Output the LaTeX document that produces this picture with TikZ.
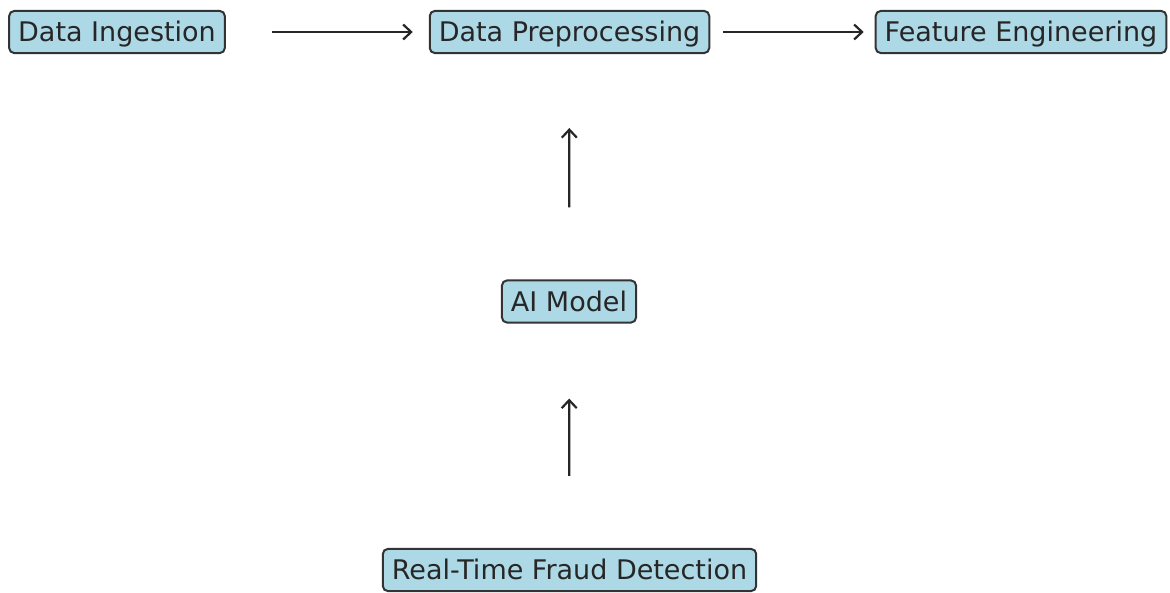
\documentclass[tikz,border=0pt]{standalone}
\usepackage{fontspec}
\setmainfont{DejaVu Sans}
\usetikzlibrary{arrows.meta}
\definecolor{boxfill}{HTML}{ADD8E6}
\definecolor{boxline}{HTML}{333333}
\tikzset{
	stage/.style={draw=boxline, line width=2pt, fill=boxfill, rounded corners=5pt,
		text=black!85, font=\fontsize{27}{30}\selectfont,
		text height=23pt, text depth=3.5pt, inner xsep=9pt, inner ysep=7.8pt},
	flow/.style={-{Straight Barb[length=8pt, width=15pt, line width=2.2pt]}, line width=2.2pt, black!85}
}
\begin{document}
\begin{tikzpicture}[x=1pt, y=-1pt]
				\useasboundingbox (0,0) rectangle (1170,592);
				\node[stage] (DI)at(117, 32) {Data Ingestion};
				\node[stage] (DP)at(569.5, 32) {Data Preprocessing};
				\node[stage] (FE)at(1021, 32) {Feature Engineering};
				\node[stage] (AI)at(569, 301.5) {AI Model};
				\node[stage] (RT)at(569.5, 570) {Real-Time Fraud Detection};
				\draw[flow, shorten <=46pt, shorten >=16pt] (DI) -- (DP);
				\draw[flow, shorten <=13pt, shorten >=11pt] (DP) -- (FE);
				\draw[flow, shorten <=72pt, shorten >=74pt] (AI.north) -- (DP.south);
				\draw[flow, shorten <=72pt, shorten >=75pt] (RT.north) -- (AI.south);
			\end{tikzpicture}
\end{document}
